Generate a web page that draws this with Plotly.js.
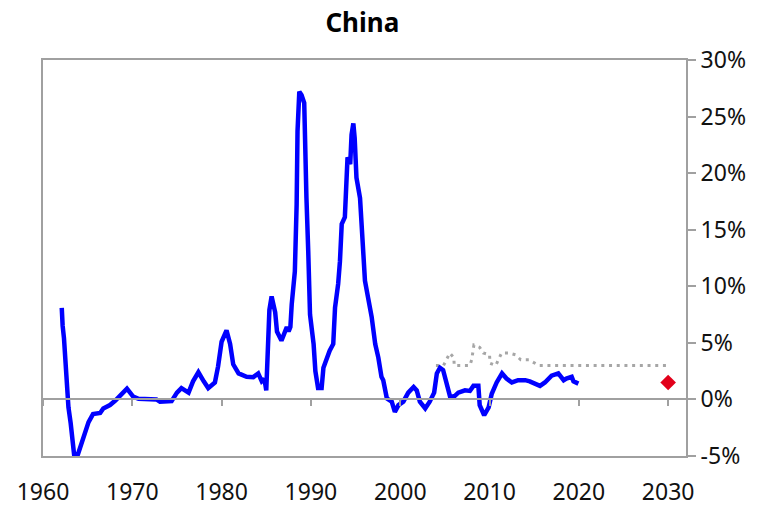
<!DOCTYPE html>
<html>
<head>
<meta charset="utf-8">
<script src="https://cdn.plot.ly/plotly-3.0.1.min.js"></script>
<style>html,body{margin:0;padding:0;background:#fff;}#chart{width:766px;height:507px;}</style>
</head>
<body>
<div id="chart"></div>
<script>
// Inflation (%), China
const inflYears = [1962.1,1962.15,1962.2,1962.35,1962.45,1962.6,1962.7,1962.85,1963.1,1963.3,1963.5,1963.85,1964.3,1964.7,1965.1,1965.6,1966.4,1966.75,1967.5,1968.1,1968.6,1969.4,1970.1,1970.7,1972.7,1973.1,1974.4,1975.0,1975.5,1976.3,1976.8,1977.4,1978.0,1978.5,1979.25,1979.6,1980.0,1980.55,1980.95,1981.3,1981.9,1982.8,1983.55,1984.1,1984.5,1984.8,1985.0,1985.2,1985.35,1985.6,1986.0,1986.2,1986.7,1987.0,1987.3,1987.5,1987.7,1987.85,1988.2,1988.4,1988.5,1988.7,1988.95,1989.25,1989.3,1989.5,1989.7,1989.9,1990.3,1990.5,1990.8,1991.2,1991.4,1991.8,1992.1,1992.5,1992.7,1993.05,1993.25,1993.45,1993.8,1994.1,1994.4,1994.55,1994.75,1994.9,1995.1,1995.5,1995.7,1995.85,1996.05,1996.4,1996.8,1997.2,1997.55,1997.9,1998.1,1998.5,1999.05,1999.4,1999.8,2000.35,2000.9,2001.5,2001.85,2002.2,2002.8,2003.3,2003.8,2004.1,2004.45,2004.8,2005.2,2005.6,2006.1,2006.5,2007.25,2007.8,2008.2,2008.75,2008.9,2009.4,2009.9,2010.25,2010.8,2011.4,2011.9,2012.5,2013.2,2014.0,2014.5,2015.1,2015.65,2016.2,2016.95,2017.7,2018.3,2018.6,2019.2,2019.4,2019.95];
const inflValues = [8.1,6.7,6.5,5.4,4.0,2.8,0.8,-0.7,-2.1,-3.9,-5.0,-5.0,-3.9,-3.0,-2.0,-1.3,-1.2,-0.8,-0.5,-0.1,0.35,0.95,0.25,0.05,0.0,-0.2,-0.15,0.6,1.0,0.6,1.6,2.4,1.6,1.0,1.5,2.9,5.1,6.1,4.9,3.1,2.3,2.0,1.97,2.3,1.6,1.8,0.8,4.6,7.9,9.1,7.7,6.0,5.2,5.8,6.4,6.0,6.4,8.4,11.3,17.2,23.7,27.2,26.9,26.2,23.1,17.8,13.1,7.5,4.9,2.5,1.0,1.0,2.8,3.7,4.3,4.9,8.1,10.2,12.2,15.5,16.1,21.4,20.8,23.4,24.4,23.1,19.6,17.8,15.5,13.1,10.5,9.0,7.3,4.9,3.7,2.0,1.7,0.1,-0.2,-1.1,-0.5,-0.2,0.6,1.1,0.8,-0.2,-0.8,-0.2,0.6,2.3,2.8,2.6,1.2,0.2,0.3,0.6,0.8,0.75,1.2,1.2,-0.5,-1.4,-0.7,0.5,1.5,2.3,1.85,1.5,1.7,1.7,1.6,1.4,1.2,1.5,2.1,2.3,1.7,1.85,2.0,1.6,1.4];

// Inflation target (%)
const targetYears = [2004.0,2004.85,2005.55,2006.0,2006.05,2007.8,2008.0,2008.25,2008.9,2009.3,2010.0,2010.05,2010.7,2011.35,2012.2,2012.9,2013.5,2014.4,2015.55,2030.0];
const targetValues = [3.0,3.0,4.1,3.7,3.0,3.0,3.5,4.8,4.6,4.1,3.95,3.2,3.0,4.1,4.1,3.95,3.5,3.5,3.0,3.0];

// Long-run expectation point
const pointYears = [2030];
const pointValues = [1.5];

const xTicks = [1960,1970,1980,1990,2000,2010,2020,2030];
const yTicks = [-5,0,5,10,15,20,25,30];
const yTickText = yTicks.map(v => v + '%');

const gray = '#a0a0a0';
const font = 'Noto Sans, Open Sans, DejaVu Sans, sans-serif';

const traces = [
  {x: targetYears, y: targetValues, type: 'scatter', mode: 'lines',
   line: {color: '#a6a6a6', width: 3, dash: '3px,4.7px'}, hoverinfo: 'skip'},
  {x: inflYears, y: inflValues, type: 'scatter', mode: 'lines',
   line: {color: '#0000ff', width: 4.5}},
  {x: pointYears, y: pointValues, type: 'scatter', mode: 'markers', xaxis: 'x2',
   marker: {symbol: 'diamond', color: '#e2001a', size: 12}}
];

const layout = {
  width: 766, height: 507,
  margin: {l: 43, r: 80, t: 60, b: 51},
  paper_bgcolor: '#fff', plot_bgcolor: '#fff',
  showlegend: false,
  title: {text: '<b>China</b>', x: 0.473, xanchor: 'center', y: 0.955, yanchor: 'middle',
          font: {family: font, size: 26, color: '#000'}},
  xaxis: {range: [1960, 2032], tickvals: xTicks, ticktext: xTicks.map(String),
          showgrid: false, zeroline: false, showline: true, mirror: true,
          linecolor: gray, linewidth: 2, ticks: 'outside', ticklen: 14,
          tickcolor: 'rgba(0,0,0,0)', tickfont: {family: font, size: 23, color: '#111'}},
  xaxis2: {range: [1960, 2032], overlaying: 'x', anchor: 'free', position: 1/7,
           side: 'bottom', tickvals: xTicks, showticklabels: false,
           showgrid: false, zeroline: false, showline: true, linecolor: gray, linewidth: 2,
           ticks: 'outside', ticklen: 6, tickwidth: 2, tickcolor: gray},
  yaxis: {range: [-5, 30], side: 'right', tickvals: yTicks, ticktext: yTickText,
          showgrid: false, zeroline: false, showline: true, mirror: true,
          linecolor: gray, linewidth: 2, ticks: 'outside', ticklen: 8, tickwidth: 2,
          tickcolor: gray, tickfont: {family: font, size: 23, color: '#111'}}
};

Plotly.newPlot('chart', traces, layout, {displayModeBar: false, staticPlot: true});
</script>
</body>
</html>
